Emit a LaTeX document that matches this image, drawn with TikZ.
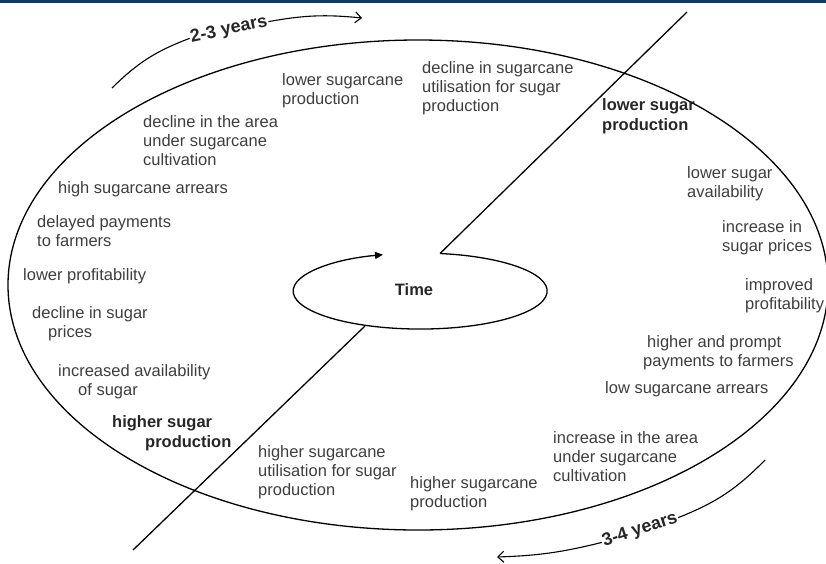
\documentclass[tikz,border=0pt]{standalone}
\usepackage{fontspec}
\setmainfont{Liberation Sans}
\usepackage{xcolor}
\usetikzlibrary{arrows.meta}

\definecolor{barblue}{RGB}{12,58,105}
\definecolor{inkgray}{RGB}{62,62,62}

\tikzset{
  stage/.style={anchor=base west, align=left, inner sep=0pt, text=inkgray,
    font=\fontsize{16.5}{19}\selectfont},
  keystage/.style={stage, text=black!85, font=\fontsize{16.5}{19.5}\selectfont\bfseries},
  years/.style={inner sep=1pt, text=black!85, font=\fontsize{18}{18}\selectfont\bfseries},
  cycleline/.style={line width=1.3pt},
  yearline/.style={line width=1.1pt}
}

\begin{document}
\begin{tikzpicture}[x=1pt,y=-1pt]
        \useasboundingbox (0,0) rectangle (826,563);
        \fill[barblue] (0,0) rectangle (826,3);

        % Draw the big cycle (ellipse)
        \draw[cycleline] (418,285) ellipse [x radius=410, y radius=245];

        % Time loop in the middle
        \node[font=\fontsize{16.5}{18}\selectfont\bfseries, text=black!85] (Time) at (414,290) {Time};
        \coordinate (LoopIn) at (440,253.5);
        \coordinate (LoopOut) at (365,326);
        \draw[cycleline,-{Triangle[length=8pt,width=7pt]}] (LoopIn) arc[start angle=-81, end angle=253, x radius=127, y radius=38];

        % Draw the diagonal split
        \coordinate (DiagTop) at (687,12);
        \coordinate (DiagBot) at (133,550);
        \draw[cycleline] (LoopIn) -- (DiagTop);
        \draw[cycleline] (LoopOut) -- (DiagBot);

        % Upper half of the cycle (placed by the baseline of the last line)
        \node[stage] (LowerCaneProd) at (282,104) {lower sugarcane\\production};
        \node[stage] (DeclineUtil) at (422,111) {decline in sugarcane\\utilisation for sugar\\production};
        \node[keystage] (LowerSugarProd) at (602,130) {lower sugar\\production};
        \node[stage] (LowerAvail) at (687,197) {lower sugar\\availability};
        \node[stage] (PriceRise) at (722,251) {increase in\\sugar prices};
        \node[stage] (ImprovedProfit) at (745,309) {improved\\profitability};
        \node[stage] (PromptPay) at (643,366) {\hspace*{4pt}higher and prompt\\payments to farmers};
        \node[stage] (LowArrears) at (605,393) {low sugarcane arrears};
        \node[stage] (IncreaseArea) at (553,481) {increase in the area\\under sugarcane\\cultivation};

        % Lower half of the cycle
        \node[stage] (HigherCaneProd) at (410,507) {higher sugarcane\\production};
        \node[stage] (HigherUtil) at (258,495) {higher sugarcane\\utilisation for sugar\\production};
        \node[keystage] (HigherSugarProd) at (112,447) {higher sugar\\\hspace*{33pt}production};
        \node[stage] (MoreSugar) at (58,395) {increased availability\\\hspace*{20pt}of sugar};
        \node[stage] (DeclinePrice) at (32,337) {decline in sugar\\\hspace*{16pt}prices};
        \node[stage] (LowerProfit) at (23,280) {lower profitability};
        \node[stage] (DelayedPay) at (37,246) {delayed payments\\to farmers};
        \node[stage] (HighArrears) at (58,193) {high sugarcane arrears};
        \node[stage] (DeclineArea) at (143,165) {decline in the area\\under sugarcane\\cultivation};

        % Durations
        \node[years, rotate=12] (TwoThree) at (229,30) {2-3\hspace{5pt}years};
        \coordinate (TwoThreeStart) at (112,88);
        \coordinate (TwoThreeEnd) at (362,18);
        \draw[yearline] (TwoThreeStart) to[bend left=12] (TwoThree.west);
        \draw[yearline,-{Straight Barb[length=6pt,width=11pt]}] (TwoThree.east) to[bend left=8] (TwoThreeEnd);

        \node[years, rotate=18] (ThreeFour) at (640,530) {3-4\hspace{5pt}years};
        \coordinate (ThreeFourStart) at (765,460);
        \coordinate (ThreeFourEnd) at (497,557);
        \draw[yearline] (ThreeFourStart) to[bend left=12] (ThreeFour.east);
        \draw[yearline,-{Straight Barb[length=6pt,width=11pt]}] (ThreeFour.west) to[bend left=6] (ThreeFourEnd);

      \end{tikzpicture}
\end{document}
